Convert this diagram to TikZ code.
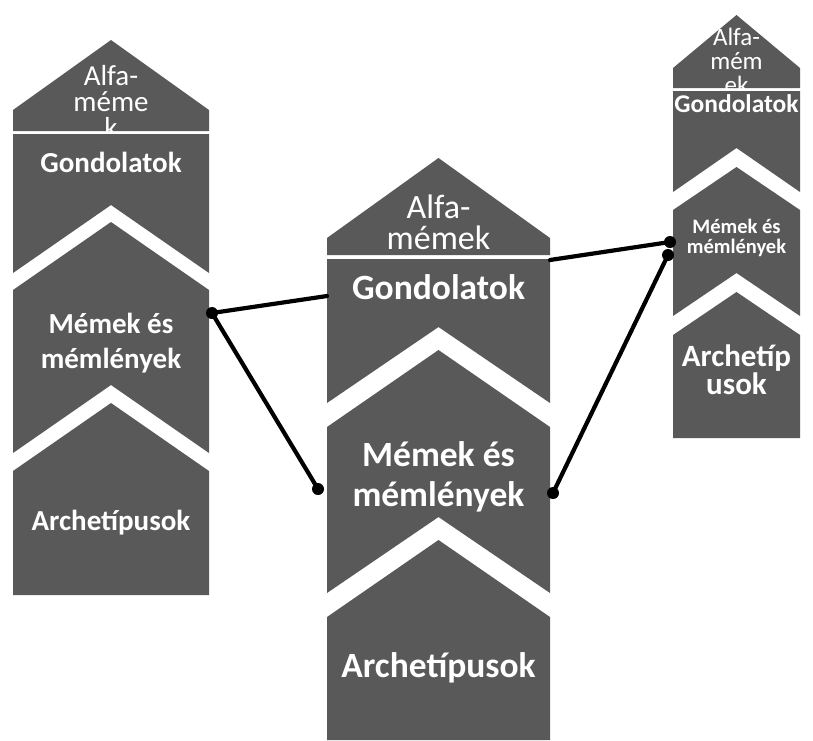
\documentclass[tikz,border=0pt]{standalone}
\usepackage{fontspec}
\setmainfont{Carlito}
\usetikzlibrary{positioning}
\definecolor{boxgray}{HTML}{595959}
\tikzset{
  piece/.style={fill=boxgray, draw=none},
  lbl/.style={text=white, align=center, inner sep=0pt},
  link/.style={line width=4.2pt, line cap=round},
  dot/.style={circle, fill=black, inner sep=0pt, minimum size=12pt},
}

\begin{document}
\begin{tikzpicture}[x=1pt, y=-1pt]
        \useasboundingbox[fill=white] (0,0) rectangle (813,740);
        % left column
        \fill[piece] (13,131) -- (13,110) -- (111,40) -- (209,110) -- (209,131) -- cycle;
        \node[lbl, font=\fontsize{29}{26}\selectfont] (lalfa) at (111,101) {Alfa-\\méme\\k};
        \fill[piece] (13,134) -- (209,134) -- (209,273) -- (111,205) -- (13,273) -- cycle;
        \node[lbl, font=\bfseries\fontsize{29}{32}\selectfont] (lgond) at (111,162) {Gondolatok};
        \fill[piece] (13,290) -- (111,222) -- (209,290) -- (209,453) -- (111,385) -- (13,453) -- cycle;
        \node[lbl, font=\bfseries\fontsize{29}{35}\selectfont] (lmem) at (111,343) {Mémek és\\mémlények};
        \fill[piece] (13,471) -- (111,403) -- (209,471) -- (209,595) -- (13,595) -- cycle;
        \node[lbl, font=\bfseries\fontsize{29}{32}\selectfont] (larch) at (111,523) {Archetípusok};
        % middle column
        \fill[piece] (327,255) -- (327,238) -- (438.5,158) -- (550,238) -- (550,255) -- cycle;
        \node[lbl, font=\fontsize{34}{31}\selectfont] (malfa) at (438.5,222) {Alfa-\\mémek};
        \fill[piece] (327,259) -- (550,259) -- (550,403) -- (438.5,327) -- (327,403) -- cycle;
        \node[lbl, font=\bfseries\fontsize{35.5}{40}\selectfont] (mgond) at (438.5,287) {Gondolatok};
        \fill[piece] (327,427) -- (438.5,350) -- (550,427) -- (550,593) -- (438.5,517) -- (327,593) -- cycle;
        \node[lbl, font=\bfseries\fontsize{35.5}{40}\selectfont] (mmem) at (438.5,477) {Mémek és\\mémlények};
        \fill[piece] (327,617) -- (438.5,540) -- (550,617) -- (550,740) -- (327,740) -- cycle;
        \node[lbl, font=\bfseries\fontsize{35.5}{40}\selectfont] (march) at (438.5,668) {Archetípusok};
        % right column
        \fill[piece] (673,88) -- (673,68) -- (736.5,15) -- (800,68) -- (800,88) -- cycle;
        \node[lbl, font=\fontsize{25}{24}\selectfont] (ralfa) at (736.5,61) {Alfa-\\mém\\ek};
        \fill[piece] (673,91) -- (800,91) -- (800,192) -- (736.5,148) -- (673,192) -- cycle;
        \node[lbl, font=\bfseries\fontsize{25.5}{28}\selectfont] (rgond) at (736.5,104) {Gondolatok};
        \fill[piece] (673,210) -- (736.5,167) -- (800,210) -- (800,316) -- (736.5,273) -- (673,316) -- cycle;
        \node[lbl, font=\bfseries\fontsize{20.5}{20}\selectfont] (rmem) at (736.5,238) {Mémek és\\mémlények};
        \fill[piece] (673,335) -- (736.5,292) -- (800,335) -- (800,438) -- (673,438) -- cycle;
        \node[lbl, font=\bfseries\fontsize{31}{26}\selectfont] (rarch) at (736.5,370) {Archetíp\\usok};
        % links
        \node[dot] (ldot) at (212,313) {};
        \node[dot] (mdotl) at (318,489) {};
        \node[dot] (mdotr) at (553,493) {};
        \node[dot] (rdota) at (670,242) {};
        \node[dot] (rdotb) at (668,255) {};
        \coordinate (mgin) at (327,296);
        \coordinate (mgout) at (550,260);
        \draw[link] (ldot.center) -- (mgin);
        \draw[link] (ldot.center) -- (mdotl.center);
        \draw[link] (mgout) -- (rdota.center);
        \draw[link] (mdotr.center) -- (rdotb.center);
    \end{tikzpicture}
\end{document}
